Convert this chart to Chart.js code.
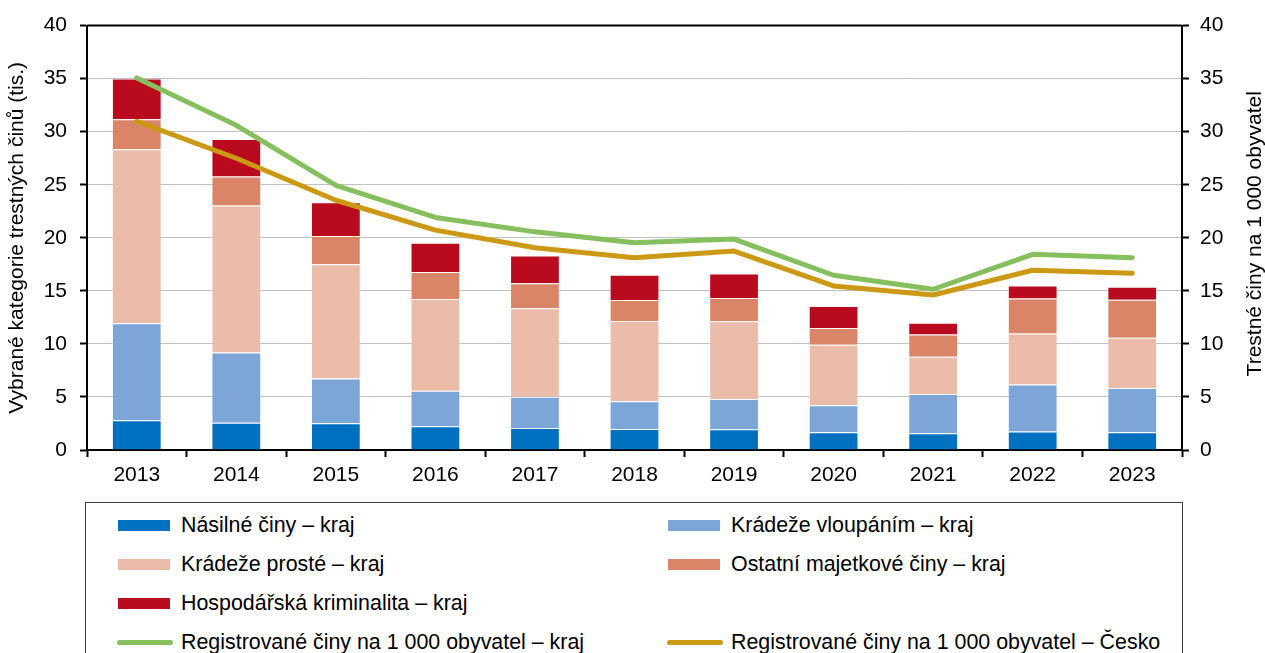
<!DOCTYPE html>
<html lang="cs">
<head>
<meta charset="utf-8">
<title>Vybrané kategorie trestných činů</title>
<script src="https://cdn.jsdelivr.net/npm/chart.js@4.4.1/dist/chart.umd.min.js"></script>
<style>
  html, body { margin: 0; padding: 0; background: #fff; }
  body { width: 1265px; height: 653px; position: relative; overflow: hidden;
         font-family: "Liberation Sans", Arial, sans-serif; color: #000; }
  #wrap { position: absolute; left: 0; top: 0; width: 1265px; height: 500px; }
  #legend { position: absolute; left: 85px; top: 502px; width: 1098px; height: 200px;
            box-sizing: border-box; border: 1.5px solid #3c3c3c; background: #fff;
            display: grid; grid-template-columns: 550px 548px; grid-auto-rows: 39px;
            padding-top: 3px; }
  .item { display: flex; align-items: center; font-size: 21.4px; white-space: nowrap; }
  .item .sw { flex: none; margin-left: 32px; margin-right: 11px; width: 52px; height: 11px; }
  .item .sw.line { width: 56px; height: 5px; border-radius: 3px; margin-left: 31px; margin-right: 8px; }
</style>
</head>
<body>
<div id="wrap"><canvas id="chart" width="1265" height="500"></canvas></div>
<div id="legend"></div>
<script>
// Roky
const years = ['2013','2014','2015','2016','2017','2018','2019','2020','2021','2022','2023'];

// Vybrané kategorie trestných činů v kraji (tis.)
const nasilne   = [2.80, 2.58, 2.52, 2.24, 2.08, 1.99, 1.96, 1.67, 1.58, 1.74, 1.67];
const vloupani  = [9.15, 6.61, 4.23, 3.35, 2.95, 2.60, 2.85, 2.54, 3.70, 4.44, 4.18];
const proste    = [16.40, 13.85, 10.75, 8.65, 8.33, 7.58, 7.33, 5.71, 3.51, 4.80, 4.72];
const ostatni   = [2.82, 2.73, 2.66, 2.54, 2.35, 1.97, 2.19, 1.59, 2.09, 3.29, 3.60];
const hospodar  = [3.85, 3.55, 3.18, 2.75, 2.62, 2.38, 2.31, 2.06, 1.12, 1.24, 1.22];

// Registrované trestné činy na 1 000 obyvatel
const naObyvKraj  = [35.07, 30.60, 24.95, 21.92, 20.56, 19.53, 19.88, 16.47, 15.15, 18.44, 18.12];
const naObyvCesko = [30.97, 27.50, 23.54, 20.72, 19.06, 18.12, 18.75, 15.46, 14.61, 16.94, 16.65];

// Popisky os
const yTicks = [0, 5, 10, 15, 20, 25, 30, 35, 40];
const rightTitle = 'Trestné činy na 1 000 obyvatel';

const FONT = '"Liberation Sans", Arial, sans-serif';

const barSet = (label, data, color) => ({
  type: 'bar', label, data, backgroundColor: color,
  borderColor: 'rgba(255,255,255,0.22)', borderWidth: 1,
  yAxisID: 'y', order: 2, stack: 'kraj',
  categoryPercentage: 0.5, barPercentage: 1.0
});
const lineSet = (label, data, color, order) => ({
  type: 'line', label, data, borderColor: color, backgroundColor: color,
  borderWidth: 5, pointRadius: 0, tension: 0, yAxisID: 'y2', order,
  borderCapStyle: 'round', borderJoinStyle: 'round'
});

const datasets = [
  barSet('Násilné činy – kraj', nasilne, '#0070C0'),
  barSet('Krádeže vloupáním – kraj', vloupani, '#7DA6D8'),
  barSet('Krádeže prosté – kraj', proste, '#EBBCA9'),
  barSet('Ostatní majetkové činy – kraj', ostatni, '#DA8468'),
  barSet('Hospodářská kriminalita – kraj', hospodar, '#BA0B1E'),
  lineSet('Registrované činy na 1 000 obyvatel – kraj', naObyvKraj, '#85BF5E', 0),
  lineSet('Registrované činy na 1 000 obyvatel – Česko', naObyvCesko, '#CC9914', 1)
];

// Horní linka rámečku a popis pravé osy (čte se zdola nahoru)
const frameAndTitle = {
  id: 'frameAndTitle',
  afterDatasetsDraw(chart) {
    const { ctx, chartArea: a } = chart;
    ctx.save();
    ctx.strokeStyle = '#000';
    ctx.lineWidth = 2;
    ctx.beginPath();
    ctx.moveTo(a.left, a.top);
    ctx.lineTo(a.right, a.top);
    ctx.stroke();
    ctx.restore();
  },
  afterDraw(chart) {
    const { ctx, chartArea: a, scales } = chart;
    const r = scales.y2.right;
    ctx.save();
    ctx.translate(r - 10, (a.top + a.bottom) / 2 - 4);
    ctx.rotate(-Math.PI / 2);
    ctx.font = '21px ' + FONT;
    ctx.fillStyle = '#000';
    ctx.textAlign = 'center';
    ctx.textBaseline = 'middle';
    ctx.fillText(rightTitle, 0, 0);
    ctx.restore();
  }
};

const tickFont = { family: FONT, size: 21 };
const fixedTicks = scale => { scale.ticks = yTicks.map(v => ({ value: v })); };

const chart = new Chart(document.getElementById('chart'), {
  data: { labels: years, datasets },
  plugins: [frameAndTitle],
  options: {
    responsive: false,
    animation: false,
    devicePixelRatio: 1,
    layout: { padding: { top: 25, left: 0, right: 0, bottom: 0 } },
    plugins: { legend: { display: false }, tooltip: { enabled: false } },
    scales: {
      x: {
        stacked: true,
        offset: true,
        afterFit: s => { s.height = 50; },
        border: { display: true, color: '#000', width: 2 },
        grid: { offset: true, drawOnChartArea: false, drawTicks: true, tickLength: 7,
                tickColor: '#000', tickWidth: 2 },
        ticks: { color: '#000', font: tickFont, padding: 6, maxRotation: 0 }
      },
      y: {
        position: 'left',
        stacked: true,
        min: 0, max: 40,
        afterBuildTicks: fixedTicks,
        afterFit: s => { s.width = 87; },
        border: { display: true, color: '#000', width: 2 },
        grid: { color: '#C0C0C0', lineWidth: 1, drawTicks: true, tickLength: 7,
                tickColor: '#000', tickWidth: 2 },
        ticks: { color: '#000', font: tickFont, padding: 13 },
        title: { display: true, text: 'Vybrané kategorie trestných činů (tis.)',
                 color: '#000', font: { family: FONT, size: 21, lineHeight: 1 },
                 padding: { top: 7, bottom: 0 } }
      },
      y2: {
        position: 'right',
        min: 0, max: 40,
        afterBuildTicks: fixedTicks,
        afterFit: s => { s.width = 83; },
        border: { display: true, color: '#000', width: 2 },
        grid: { drawOnChartArea: false, drawTicks: true, tickLength: 7,
                tickColor: '#000', tickWidth: 2 },
        ticks: { color: '#000', font: tickFont, padding: 11 }
      }
    }
  }
});

// Legenda ve dvou sloupcích (šesté pole zůstává prázdné)
const legendOrder = [0, 1, 2, 3, 4, null, 5, 6];
const legend = document.getElementById('legend');
legendOrder.forEach(i => {
  const cell = document.createElement('div');
  cell.className = 'item';
  if (i !== null) {
    const ds = chart.data.datasets[i];
    const sw = document.createElement('span');
    sw.className = 'sw' + (ds.type === 'line' ? ' line' : '');
    sw.style.background = ds.type === 'line' ? ds.borderColor : ds.backgroundColor;
    const txt = document.createElement('span');
    txt.textContent = ds.label;
    cell.append(sw, txt);
  }
  legend.appendChild(cell);
});
</script>
</body>
</html>
